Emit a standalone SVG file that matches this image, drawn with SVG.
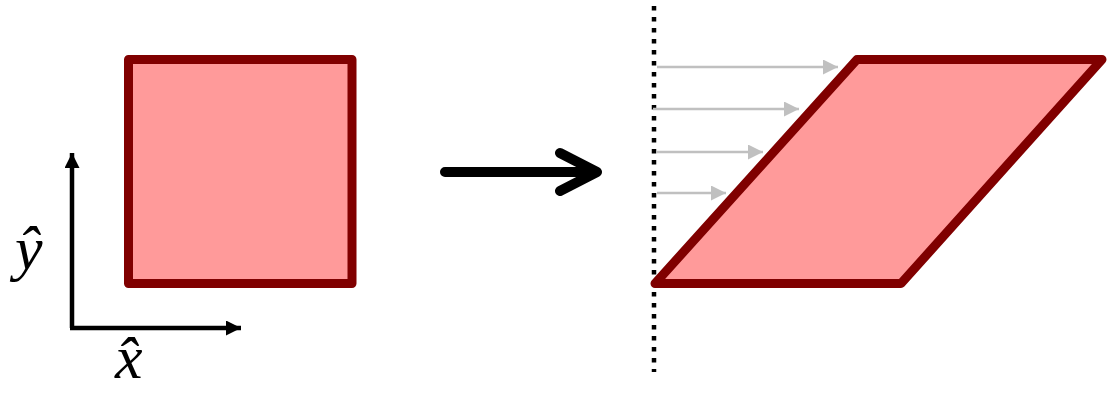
<svg xmlns="http://www.w3.org/2000/svg" width="1111" height="393" viewBox="0 0 1111 393">
<style>
.shape{fill:#ff9a9a;stroke:#800000;stroke-width:9;stroke-linejoin:round}
.axis{stroke:#000;stroke-width:4.5;fill:none}
.shear{stroke:#c0c0c0;stroke-width:2.5;fill:none}
.lbl{font-family:"Liberation Serif",serif;font-style:italic;font-size:62px;fill:#000}
</style>
<defs>
<marker id="ah" markerUnits="userSpaceOnUse" markerWidth="16" markerHeight="16" refX="15" refY="7.5" orient="auto"><path d="M0,0 L15,7.5 L0,15 Z" fill="#000"/></marker>
<marker id="gh" markerUnits="userSpaceOnUse" markerWidth="16" markerHeight="16" refX="15" refY="7.5" orient="auto"><path d="M0,0 L15,7.5 L0,15 Z" fill="#c0c0c0"/></marker>
</defs>
<g id="square"><rect class="shape" x="128.5" y="59.5" width="223.5" height="224"/></g>
<g id="axes">
<line class="axis" x1="72" y1="328" x2="72" y2="153" marker-end="url(#ah)"/>
<line class="axis" x1="70" y1="328" x2="241" y2="328" marker-end="url(#ah)"/>
</g>
<g id="label-y"><text class="lbl" x="15" y="269">ŷ</text></g>
<g id="label-x"><text class="lbl" x="115" y="378">x̂</text></g>
<g id="connectors">
<path d="M445,172 L596,172 M560,153 L597,172 L560,191" stroke="#000" stroke-width="10" stroke-linecap="round" stroke-linejoin="round" fill="none"/>
</g>
<g id="wall"><line x1="654" y1="6" x2="654" y2="372" stroke="#000" stroke-width="4.5" stroke-dasharray="4.5 6.5"/></g>
<g id="shear-arrows">
<line class="shear" x1="657" y1="67" x2="838" y2="67" marker-end="url(#gh)"/>
<line class="shear" x1="653" y1="109" x2="799" y2="109" marker-end="url(#gh)"/>
<line class="shear" x1="657" y1="152" x2="763" y2="152" marker-end="url(#gh)"/>
<line class="shear" x1="657" y1="193" x2="726" y2="193" marker-end="url(#gh)"/>
</g>
<g id="parallelogram"><polygon class="shape" points="655,283.5 857,59.5 1102,59.5 901,283.5"/></g>
</svg>
